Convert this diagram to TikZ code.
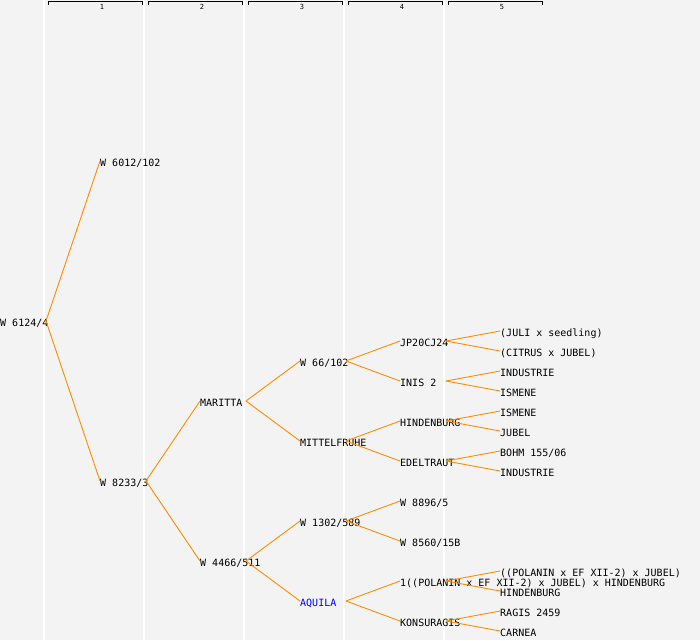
\documentclass[tikz,border=0pt]{standalone}
\usepackage{fontspec}
\setmonofont{DejaVu Sans Mono}
\definecolor{paper}{RGB}{243,243,243}
\definecolor{linkorange}{RGB}{255,140,0}
\tikzset{
  cultivar/.style={anchor=west, inner sep=0pt, font=\fontsize{10}{12}\ttfamily,
    text height=10pt, text depth=0pt},
  link/.style={draw=linkorange, line width=0.9pt},
  colrule/.style={draw=white, line width=1.6pt},
  bracket/.style={draw=black, line width=0.9pt},
}

\begin{document}
\begin{tikzpicture}[x=1pt,y=-1pt]
    \def \colw {100}
    \def \reach {46} % where a link leaves its parent, measured from the text start
    \fill[paper] (0,0) rectangle (700,640);
    \useasboundingbox (0,0) rectangle (700,640);
    % generation columns
    \foreach \k in {1,...,5}
    {
      \draw[colrule] ({\colw*\k-56},0) -- ({\colw*\k-56},640);
      \draw[bracket] ({\colw*\k-52},4.5) -- ({\colw*\k-52},1.5)
        -- ({\colw*\k+42},1.5) -- ({\colw*\k+42},4.5);
      \node[font=\fontsize{7}{7}\ttfamily, inner sep=0pt] (h\k) at ({\colw*\k+2},7) {\k};
    }
    % pedigree
    \node[cultivar] (r) at (0,321) {W 6124/4};
    \node[cultivar] (a) at (100,161) {W 6012/102};
    \node[cultivar] (b) at (100,481) {W 8233/3};
    \node[cultivar] (ba) at (200,401) {MARITTA};
    \node[cultivar] (bb) at (200,561) {W 4466/511};
    \node[cultivar] (baa) at (300,361) {W 66/102};
    \node[cultivar] (bab) at (300,441) {MITTELFRUHE};
    \node[cultivar] (bba) at (300,521) {W 1302/589};
    \node[cultivar, text=blue] (bbb) at (300,601) {AQUILA};
    \node[cultivar] (baaa) at (400,341) {JP20CJ24};
    \node[cultivar] (baab) at (400,381) {INIS 2};
    \node[cultivar] (baba) at (400,421) {HINDENBURG};
    \node[cultivar] (babb) at (400,461) {EDELTRAUT};
    \node[cultivar] (bbaa) at (400,501) {W 8896/5};
    \node[cultivar] (bbab) at (400,541) {W 8560/15B};
    \node[cultivar] (bbba) at (400,581) {1((POLANIN x EF XII-2) x JUBEL) x HINDENBURG};
    \node[cultivar] (bbbb) at (400,621) {KONSURAGIS};
    \foreach \y/\t [count=\i] in {331/{(JULI x seedling)}, 351/{(CITRUS x JUBEL)},
        371/{INDUSTRIE}, 391/{ISMENE}, 411/{ISMENE}, 431/{JUBEL},
        451/{BOHM 155/06}, 471/{INDUSTRIE}, 571/{((POLANIN x EF XII-2) x JUBEL)},
        591/{HINDENBURG}, 611/{RAGIS 2459}, 631/{CARNEA}}
      \node[cultivar] (l\i) at (500,\y) {\t};
    % links
    \foreach \p/\c in {r/a, r/b, b/ba, b/bb, ba/baa, ba/bab, bb/bba, bb/bbb,
        baa/baaa, baa/baab, bab/baba, bab/babb, bba/bbaa, bba/bbab, bbb/bbba, bbb/bbbb,
        baaa/l1, baaa/l2, baab/l3, baab/l4, baba/l5, baba/l6, babb/l7, babb/l8,
        bbba/l9, bbba/l10, bbbb/l11, bbbb/l12}
      \draw[link] ([xshift=\reach pt]\p.west) -- (\c.west);
\end{tikzpicture}
\end{document}
